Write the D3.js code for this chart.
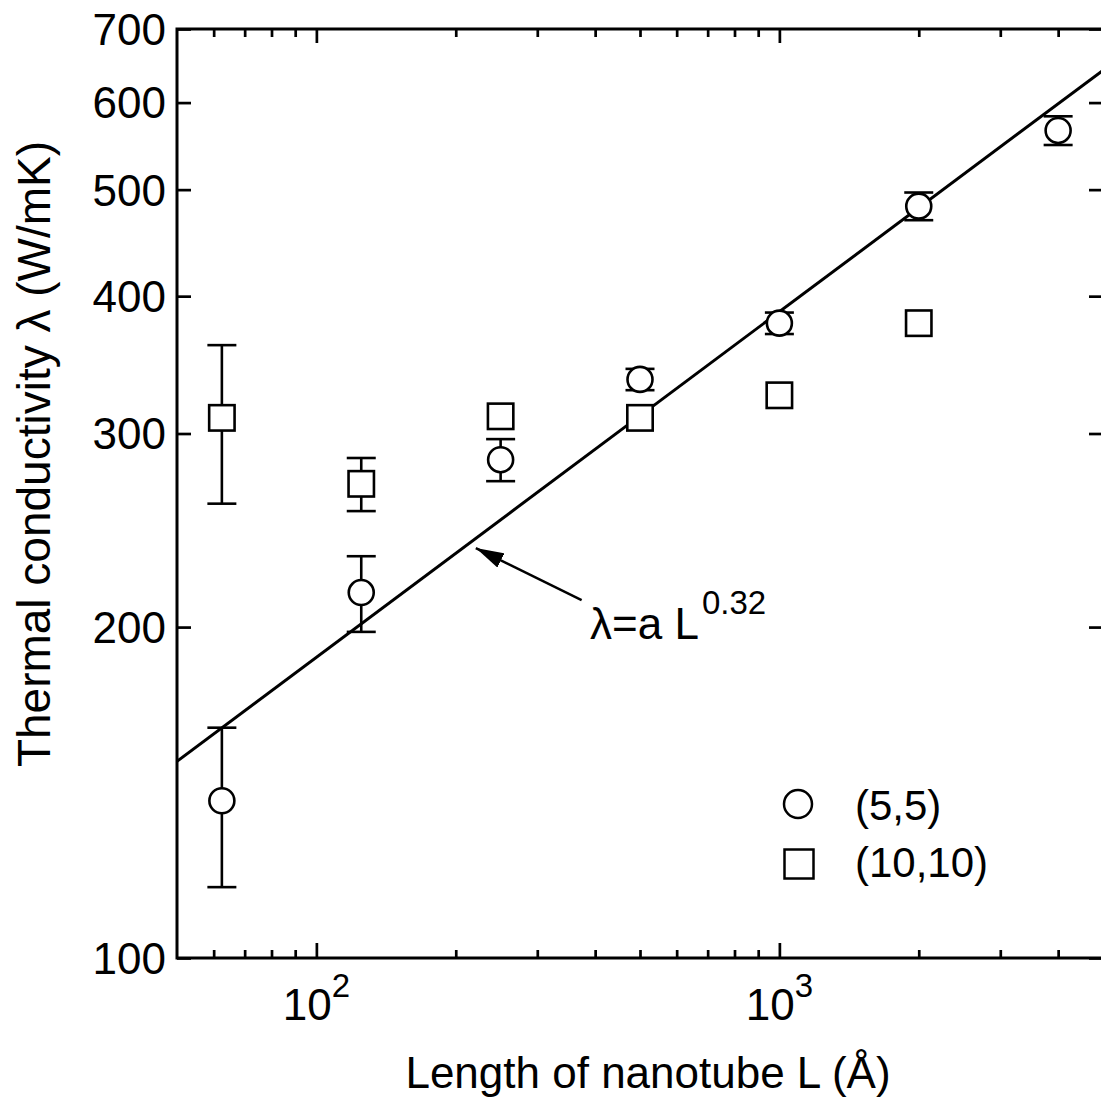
<!DOCTYPE html>
<html>
<head>
<meta charset="utf-8">
<script src="https://cdn.jsdelivr.net/npm/d3@7"></script>
<style>
  body { margin: 0; background: #fff; }
  svg { display: block; font-family: "Liberation Sans", Arial, sans-serif; }
  .tick text { font-size: 44px; fill: #000; }
</style>
</head>
<body>
<div id="chart"></div>
<script>
// nanotube length (Angstrom)
var lengths55 = [62.5, 125, 250, 500, 1000, 2000, 4000];
var lambda55 = [139, 215, 284, 336, 378, 483, 566];
var err55 = [23, 17, 12.5, 7.5, 8.5, 14, 17];

var lengths1010 = [62.5, 125, 250, 500, 1000, 2000];
var lambda1010 = [310, 270, 311, 310, 325, 378];
var err1010 = [51, 15, 0, 0, 0, 0];

// power law fit, drawn across the whole x range
var fitL = [50, 5000];
var fitLambda = [151, 642];

var yTicks = [100, 200, 300, 400, 500, 600, 700];
var xMajor = [100, 1000];
var xMinor = [60, 70, 80, 90, 200, 300, 400, 500, 600, 700, 800, 900, 2000, 3000, 4000];
var xLabels = [{ v: 100, base: "10", exp: "2" }, { v: 1000, base: "10", exp: "3" }];

var width = 1101, height = 1104;
var margin = { top: 29, left: 177, right: 1103, bottom: 958 };

var svg = d3.select("#chart").append("svg")
    .attr("width", width)
    .attr("height", height);

var x = d3.scaleLog().domain([50, 5000]).range([margin.left, margin.right]);
var y = d3.scaleLog().domain([100, 700]).range([margin.bottom, margin.top]);

svg.append("clipPath").attr("id", "plotClip")
    .append("rect")
    .attr("x", margin.left).attr("y", margin.top)
    .attr("width", margin.right - margin.left)
    .attr("height", margin.bottom - margin.top);

//axes: ticks point inward on all four sides
function styleAxis(g) {
    g.select(".domain").remove();
    g.selectAll(".tick line").attr("stroke", "#000").attr("stroke-width", 2.7);
}

svg.append("g").attr("transform", "translate(0," + margin.bottom + ")")
    .call(d3.axisBottom(x).tickValues(xMajor).tickSize(-15).tickFormat(""))
    .call(styleAxis);
svg.append("g").attr("transform", "translate(0," + margin.bottom + ")")
    .call(d3.axisBottom(x).tickValues(xMinor).tickSize(-8).tickFormat(""))
    .call(styleAxis);
svg.append("g").attr("transform", "translate(0," + margin.top + ")")
    .call(d3.axisTop(x).tickValues(xMajor).tickSize(-14).tickFormat(""))
    .call(styleAxis);
svg.append("g").attr("transform", "translate(0," + margin.top + ")")
    .call(d3.axisTop(x).tickValues(xMinor).tickSize(-8).tickFormat(""))
    .call(styleAxis);

svg.append("g").attr("transform", "translate(" + margin.left + ",0)")
    .call(d3.axisLeft(y).tickValues(yTicks).tickSize(-14).tickPadding(11).tickFormat(d3.format("d")))
    .call(styleAxis)
    .selectAll(".tick text").attr("dy", "0.35em");
svg.append("g").attr("transform", "translate(" + margin.right + ",0)")
    .call(d3.axisRight(y).tickValues(yTicks).tickSize(-14).tickFormat(""))
    .call(styleAxis);

// x labels with exponents
var xl = svg.append("g").selectAll("text").data(xLabels).enter().append("text")
    .attr("x", function (d) { return x(d.v); })
    .attr("y", 1020)
    .attr("text-anchor", "middle")
    .attr("font-size", 44);
xl.append("tspan").text(function (d) { return d.base; });
xl.append("tspan").attr("dy", -23).attr("font-size", 33).text(function (d) { return d.exp; });

// frame
svg.append("rect")
    .attr("x", margin.left).attr("y", margin.top)
    .attr("width", margin.right - margin.left)
    .attr("height", margin.bottom - margin.top)
    .attr("fill", "none").attr("stroke", "#000").attr("stroke-width", 3);

// fit line
var line = d3.line().x(function (d) { return x(d[0]); }).y(function (d) { return y(d[1]); });
svg.append("path")
    .datum(d3.zip(fitL, fitLambda))
    .attr("clip-path", "url(#plotClip)")
    .attr("d", line)
    .attr("fill", "none").attr("stroke", "#000").attr("stroke-width", 3);

// series
function drawSeries(ls, vals, errs, shape) {
    var pts = ls.map(function (l, i) { return { l: l, v: vals[i], e: errs[i] }; });
    var g = svg.append("g").attr("stroke", "#000").attr("stroke-width", 2.6);
    var eb = g.selectAll(".err").data(pts.filter(function (d) { return d.e > 0; })).enter().append("g");
    eb.append("line")
        .attr("x1", function (d) { return x(d.l); }).attr("x2", function (d) { return x(d.l); })
        .attr("y1", function (d) { return y(d.v - d.e); }).attr("y2", function (d) { return y(d.v + d.e); });
    [-1, 1].forEach(function (s) {
        eb.append("line")
            .attr("x1", function (d) { return x(d.l) - 14.5; }).attr("x2", function (d) { return x(d.l) + 14.5; })
            .attr("y1", function (d) { return y(d.v + s * d.e); }).attr("y2", function (d) { return y(d.v + s * d.e); });
    });
    if (shape === "circle") {
        g.selectAll("circle").data(pts).enter().append("circle")
            .attr("cx", function (d) { return x(d.l); })
            .attr("cy", function (d) { return y(d.v); })
            .attr("r", 12.5)
            .attr("fill", "#fff");
    } else {
        g.selectAll("rect").data(pts).enter().append("rect")
            .attr("x", function (d) { return x(d.l) - 12.7; })
            .attr("y", function (d) { return y(d.v) - 12.7; })
            .attr("width", 25.4).attr("height", 25.4)
            .attr("fill", "#fff");
    }
}
drawSeries(lengths1010, lambda1010, err1010, "square");
drawSeries(lengths55, lambda55, err55, "circle");

// annotation arrow
svg.append("defs").append("marker")
    .attr("id", "arrowHead")
    .attr("viewBox", "0 0 28 16")
    .attr("refX", 28).attr("refY", 8)
    .attr("markerWidth", 28).attr("markerHeight", 16)
    .attr("markerUnits", "userSpaceOnUse")
    .attr("orient", "auto")
    .append("path").attr("d", "M0,0 L28,8 L0,16 Z").attr("fill", "#000");

svg.append("line")
    .attr("x1", x(374)).attr("y1", y(211.6))
    .attr("x2", x(221)).attr("y2", y(236))
    .attr("stroke", "#000").attr("stroke-width", 2.5)
    .attr("marker-end", "url(#arrowHead)");

var formula = svg.append("text")
    .attr("x", x(390)).attr("y", y(195))
    .attr("font-size", 44);
formula.append("tspan").text("λ=a L");
formula.append("tspan").attr("dy", -25).attr("dx", 3).attr("font-size", 33).text("0.32");

// legend
var legend = svg.append("g");
legend.append("circle").attr("cx", 798).attr("cy", 804).attr("r", 14)
    .attr("fill", "none").attr("stroke", "#000").attr("stroke-width", 2.5);
legend.append("rect").attr("x", 784.5).attr("y", 849.5).attr("width", 29).attr("height", 29)
    .attr("fill", "none").attr("stroke", "#000").attr("stroke-width", 2.5);
legend.append("text").attr("x", 855).attr("y", 820).attr("font-size", 42).text("(5,5)");
legend.append("text").attr("x", 855).attr("y", 877).attr("font-size", 42).text("(10,10)");

// axis titles
svg.append("text")
    .attr("x", 648).attr("y", 1088)
    .attr("text-anchor", "middle")
    .attr("font-size", 44)
    .text("Length of nanotube L (Å)");

svg.append("text")
    .attr("transform", "translate(50,454) rotate(-90)")
    .attr("text-anchor", "middle")
    .attr("font-size", 46)
    .text("Thermal conductivity λ (W/mK)");
</script>
</body>
</html>
